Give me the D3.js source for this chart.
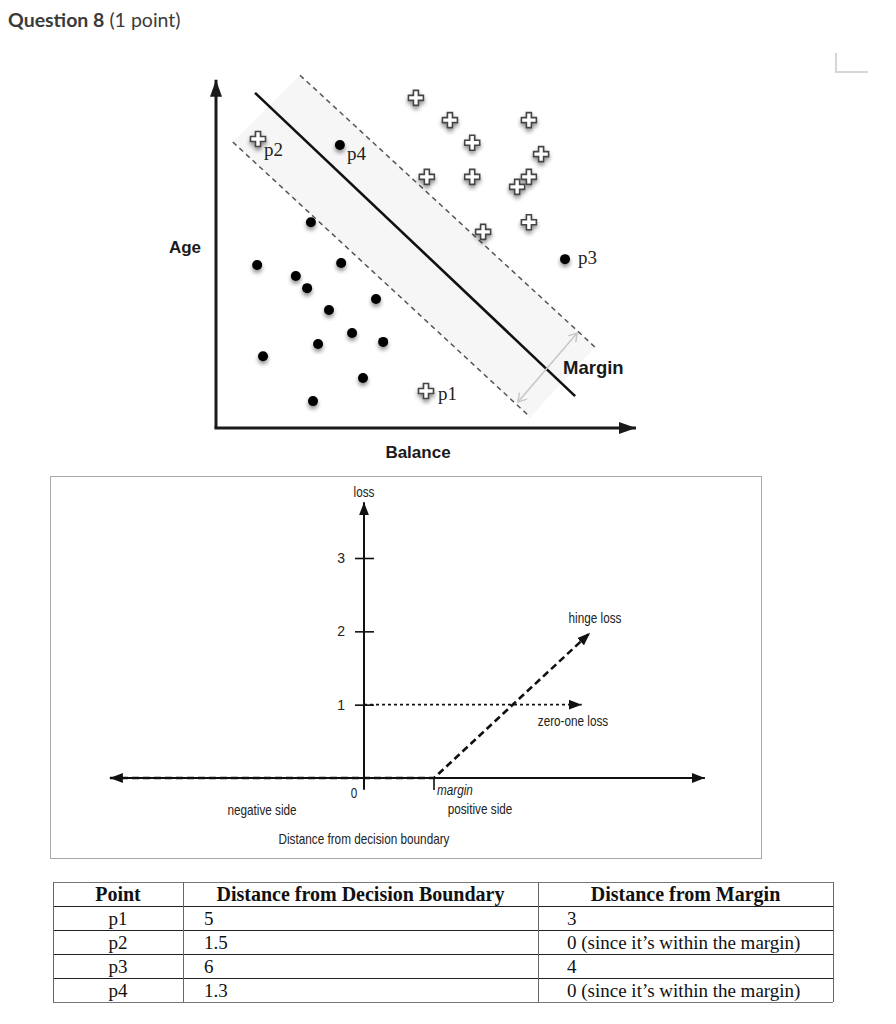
<!DOCTYPE html>
<html>
<head>
<meta charset="utf-8">
<script src="https://cdn.jsdelivr.net/npm/d3@7"></script>
<style>
  body { margin: 0; background: #fff; }
  .cond { font-family: "Liberation Sans", Arial, sans-serif; font-size: 14px; fill: #222; }
  .serif { font-family: "Liberation Serif", "Times New Roman", serif; fill: #111; }
</style>
</head>
<body>
<svg width="896" height="1024"></svg>
<script>
// ---- top plot: balance (x) / age (y), in plot units ----
const negBalance = [0.98, 1.90, 2.17, 2.98, 3.81, 2.69, 3.24, 2.43, 3.98, 1.12, 3.50, 2.31, 2.26];
const negAge     = [3.88, 3.62, 3.33, 3.93, 3.07, 2.81, 2.26, 2.00, 2.05, 1.71, 1.19, 0.64, 4.90];
const posBalance = [4.76, 5.57, 7.45, 6.10, 7.74, 5.02, 6.10, 7.45, 7.17, 7.45, 6.36];
const posAge     = [7.86, 7.33, 7.33, 6.79, 6.52, 5.98, 5.98, 5.98, 5.74, 4.90, 4.67];
const namedPoints = [
  { name: 'p1', cls: 'pos', b: 5.00, a: 0.88 },
  { name: 'p2', cls: 'pos', b: 1.00, a: 6.88 },
  { name: 'p3', cls: 'neg', b: 8.31, a: 4.02 },
  { name: 'p4', cls: 'neg', b: 2.95, a: 6.74 }
];
const boundaryLine = [[0.93, 7.98], [8.55, 0.76]];
const upperMargin  = [[2.00, 8.40], [9.02, 1.93]];
const lowerMargin  = [[0.40, 6.81], [7.48, 0.26]];
const marginArrow  = [[7.19, 0.62], [8.60, 2.26]];

// ---- hinge loss plot ----
const lossTicks = [1, 2, 3];
const hingeX = [-3.63, 1, 3.23];
const hingeY = [0, 0, 1.98];
const zeroOneX = [0, 3.11];
const zeroOneY = [1, 1];

// ---- table ----
const tableHeader = ['Point', 'Distance from Decision Boundary', 'Distance from Margin'];
const tablePoints = ['p1', 'p2', 'p3', 'p4'];
const distBoundary = ['5', '1.5', '6', '1.3'];
const distMargin = ['3', '0 (since it\u2019s within the margin)', '4', '0 (since it\u2019s within the margin)'];

const svg = d3.select('svg');
const defs = svg.append('defs');

function arrowMarker(id, len, wid, color) {
  defs.append('marker')
    .attr('id', id)
    .attr('markerUnits', 'userSpaceOnUse')
    .attr('markerWidth', len).attr('markerHeight', wid)
    .attr('refX', len).attr('refY', wid / 2)
    .attr('orient', 'auto-start-reverse')
    .append('path')
    .attr('d', `M0,0L${len},${wid / 2}L0,${wid}Z`)
    .attr('fill', color);
}
arrowMarker('bigArrow', 17, 12, '#1a1a1a');
arrowMarker('smallArrow', 13, 10, '#111');

defs.append('marker')
  .attr('id', 'openArrow')
  .attr('markerUnits', 'userSpaceOnUse')
  .attr('markerWidth', 12).attr('markerHeight', 12)
  .attr('refX', 9).attr('refY', 6)
  .attr('orient', 'auto-start-reverse')
  .append('path')
  .attr('d', 'M1,1L9,6L1,11')
  .attr('fill', 'none')
  .attr('stroke', '#c8c8c8')
  .attr('stroke-width', 1.5);

const shadow = defs.append('filter').attr('id', 'shadow')
  .attr('x', '-60%').attr('y', '-60%').attr('width', '220%').attr('height', '220%');
shadow.append('feGaussianBlur').attr('in', 'SourceAlpha').attr('stdDeviation', 2);
shadow.append('feOffset').attr('dx', 0).attr('dy', 3).attr('result', 'off');
shadow.append('feComponentTransfer').append('feFuncA').attr('type', 'linear').attr('slope', 0.45);
const merge = shadow.append('feMerge');
merge.append('feMergeNode');
merge.append('feMergeNode').attr('in', 'SourceGraphic');

defs.append('clipPath').attr('id', 'marginClip')
  .append('rect').attr('x', 0).attr('y', 0).attr('width', 623).attr('height', 1024);

// title
const title = svg.append('text')
  .attr('x', 8).attr('y', 27)
  .style('font-family', 'Lato, sans-serif')
  .style('font-size', '19.5px')
  .style('fill', '#3b3b3b');
title.append('tspan').style('font-weight', 'bold').text('Question 8');
title.append('tspan').text(' (1 point)');

// corner mark
svg.append('path')
  .attr('d', 'M836,53V72H868')
  .attr('fill', 'none')
  .attr('stroke', '#d6d6d6')
  .attr('stroke-width', 2);

// ================= top plot =================
const x1 = d3.scaleLinear().domain([0, 10]).range([216, 636]);
const y1 = d3.scaleLinear().domain([0, 8]).range([428, 92]);
const svmG = svg.append('g');
const line1 = d3.line().x(d => x1(d[0])).y(d => y1(d[1]));

// shaded margin band
svmG.append('path')
  .attr('d', line1([upperMargin[0], upperMargin[1], lowerMargin[1], lowerMargin[0]]) + 'Z')
  .attr('fill', '#f6f6f6');

svmG.selectAll('.margin-line')
  .data([upperMargin, lowerMargin])
  .enter().append('path')
  .attr('class', 'margin-line')
  .attr('d', line1)
  .attr('fill', 'none')
  .attr('stroke', '#555')
  .attr('stroke-width', 1.5)
  .attr('stroke-dasharray', '5,4');

svmG.append('path')
  .attr('d', line1(boundaryLine))
  .attr('stroke', '#111')
  .attr('stroke-width', 2.6);

svmG.append('path')
  .attr('d', line1(marginArrow))
  .attr('stroke', '#c8c8c8')
  .attr('stroke-width', 1.6)
  .attr('marker-start', 'url(#openArrow)')
  .attr('marker-end', 'url(#openArrow)');

// axes
svmG.append('line')
  .attr('x1', x1(0)).attr('y1', y1(0))
  .attr('x2', x1(0)).attr('y2', y1(8.29))
  .attr('stroke', '#1a1a1a').attr('stroke-width', 3)
  .attr('marker-end', 'url(#bigArrow)');
svmG.append('line')
  .attr('x1', x1(0) - 1.5).attr('y1', y1(0))
  .attr('x2', x1(10)).attr('y2', y1(0))
  .attr('stroke', '#1a1a1a').attr('stroke-width', 3)
  .attr('marker-end', 'url(#bigArrow)');

const negData = negBalance.map((b, i) => ({ b: b, a: negAge[i] }))
  .concat(namedPoints.filter(d => d.cls === 'neg'));
const posData = posBalance.map((b, i) => ({ b: b, a: posAge[i] }))
  .concat(namedPoints.filter(d => d.cls === 'pos'));

svmG.selectAll('.neg')
  .data(negData)
  .enter().append('circle')
  .attr('class', 'neg')
  .attr('cx', d => x1(d.b))
  .attr('cy', d => y1(d.a))
  .attr('r', 5)
  .attr('fill', '#050505')
  .attr('filter', 'url(#shadow)');

const cross = d3.symbol().type(d3.symbolCross).size(125);
svmG.selectAll('.pos')
  .data(posData)
  .enter().append('path')
  .attr('class', 'pos')
  .attr('d', cross)
  .attr('transform', d => `translate(${x1(d.b)},${y1(d.a)})`)
  .attr('fill', '#fff')
  .attr('stroke', '#444')
  .attr('stroke-width', 1.6)
  .attr('filter', 'url(#shadow)');

const labelOffset = { p1: [12, 9], p2: [6, 17], p3: [13, 5], p4: [7, 15] };
svmG.selectAll('.plabel')
  .data(namedPoints)
  .enter().append('text')
  .attr('class', 'plabel serif')
  .attr('x', d => x1(d.b) + labelOffset[d.name][0])
  .attr('y', d => y1(d.a) + labelOffset[d.name][1])
  .style('font-size', '19px')
  .style('fill', '#222')
  .text(d => d.name);

const boldLabel = 'font-family:"Liberation Sans",Arial,sans-serif;font-weight:bold;font-size:17px;fill:#1a1a1a';
svmG.append('text').attr('x', 185).attr('y', 253).attr('text-anchor', 'middle')
  .attr('style', boldLabel).text('Age');
svmG.append('text').attr('x', 418).attr('y', 458).attr('text-anchor', 'middle')
  .attr('style', boldLabel).text('Balance');
svmG.append('text').attr('x', 563).attr('y', 374)
  .attr('clip-path', 'url(#marginClip)')
  .attr('style', boldLabel).style('font-size', '18.5px').text('Margin');

// ================= hinge loss plot =================
svg.append('rect')
  .attr('x', 50.5).attr('y', 476.5)
  .attr('width', 711).attr('height', 382)
  .attr('fill', 'none')
  .attr('stroke', '#a8a8a8');

const x2 = d3.scaleLinear().domain([0, 1]).range([364, 434]);
const y2 = d3.scaleLinear().domain([0, 3]).range([778, 558]);
const lossG = svg.append('g');

// narrow label text (squeezed horizontally)
function condText(x, y, anchor, str, italic) {
  return lossG.append('text')
    .attr('class', 'cond')
    .attr('transform', `translate(${x},${y}) scale(0.84,1)`)
    .attr('text-anchor', anchor)
    .style('font-style', italic ? 'italic' : null)
    .text(str);
}

// x axis (both directions)
lossG.append('line')
  .attr('x1', x2(-3.63)).attr('y1', y2(0))
  .attr('x2', x2(4.87)).attr('y2', y2(0))
  .attr('stroke', '#111').attr('stroke-width', 2)
  .attr('marker-start', 'url(#smallArrow)')
  .attr('marker-end', 'url(#smallArrow)');

// y axis
lossG.append('line')
  .attr('x1', x2(0)).attr('y1', y2(-0.16))
  .attr('x2', x2(0)).attr('y2', y2(3.76))
  .attr('stroke', '#111').attr('stroke-width', 2)
  .attr('marker-end', 'url(#smallArrow)');

const yAxis = lossG.append('g')
  .attr('transform', `translate(${x2(0)},0)`)
  .call(d3.axisLeft(y2).tickValues(lossTicks).tickSize(9).tickPadding(10).tickFormat(d3.format('d')));
yAxis.select('.domain').remove();
yAxis.attr('font-family', null).attr('font-size', null);
yAxis.selectAll('.tick line').attr('x1', 10).attr('stroke', '#111').attr('stroke-width', 1.6);
yAxis.selectAll('.tick text').attr('class', 'cond').attr('fill', null);

condText(x2(0) - 10, y2(0) + 20, 'middle', '0');

// margin tick
lossG.append('line')
  .attr('x1', x2(1)).attr('y1', y2(0))
  .attr('x2', x2(1)).attr('y2', y2(0) + 12)
  .attr('stroke', '#111').attr('stroke-width', 1.6);

const line2 = d3.line().x(d => x2(d[0])).y(d => y2(d[1]));

lossG.append('path')
  .attr('d', line2(hingeX.map((v, i) => [v, hingeY[i]])))
  .attr('fill', 'none')
  .attr('stroke', '#111')
  .attr('stroke-width', 2.6)
  .attr('stroke-dasharray', '7,4')
  .attr('marker-end', 'url(#smallArrow)');

lossG.append('path')
  .attr('d', line2(zeroOneX.map((v, i) => [v, zeroOneY[i]])))
  .attr('fill', 'none')
  .attr('stroke', '#111')
  .attr('stroke-width', 1.8)
  .attr('stroke-dasharray', '3,3')
  .attr('marker-end', 'url(#smallArrow)');

condText(x2(0), 497, 'middle', 'loss');
condText(595, 623, 'middle', 'hinge loss');
condText(573, 726, 'middle', 'zero-one loss');
condText(x2(1) + 3, 795, 'start', 'margin', true);
condText(262, 815, 'middle', 'negative side');
condText(480, 814, 'middle', 'positive side');
condText(364, 844, 'middle', 'Distance from decision boundary');

// ================= table =================
const colX = [53, 183, 538, 833];
const rowY = d3.scaleBand().domain(['header'].concat(tablePoints)).range([882, 1002]);
const tbl = svg.append('g');

tbl.selectAll('.hline')
  .data(rowY.domain().concat(['end']))
  .enter().append('line')
  .attr('x1', colX[0]).attr('x2', colX[3])
  .attr('y1', (d, i) => 882.5 + i * rowY.bandwidth())
  .attr('y2', (d, i) => 882.5 + i * rowY.bandwidth())
  .attr('stroke', (d, i) => (i === 0 || i === 5) ? '#777' : '#222')
  .attr('stroke-width', 1.2);

tbl.selectAll('.vline')
  .data(colX)
  .enter().append('line')
  .attr('x1', d => d + 0.5).attr('x2', d => d + 0.5)
  .attr('y1', 882).attr('y2', 1002)
  .attr('stroke', '#666')
  .attr('stroke-width', 1);

tbl.selectAll('.head')
  .data(tableHeader)
  .enter().append('text')
  .attr('class', 'serif')
  .attr('x', (d, i) => (colX[i] + colX[i + 1]) / 2)
  .attr('y', rowY('header') + 19)
  .attr('text-anchor', 'middle')
  .style('font-weight', 'bold')
  .style('font-size', '20px')
  .text(d => d);

tbl.selectAll('.pt')
  .data(tablePoints)
  .enter().append('text')
  .attr('class', 'serif')
  .attr('x', (colX[0] + colX[1]) / 2)
  .attr('y', d => rowY(d) + 19)
  .attr('text-anchor', 'middle')
  .style('font-size', '19px')
  .text(d => d);

tbl.selectAll('.db')
  .data(distBoundary)
  .enter().append('text')
  .attr('class', 'serif')
  .attr('x', colX[1] + 21)
  .attr('y', (d, i) => rowY(tablePoints[i]) + 19)
  .style('font-size', '19px')
  .text(d => d);

tbl.selectAll('.dm')
  .data(distMargin)
  .enter().append('text')
  .attr('class', 'serif')
  .attr('x', colX[2] + 29)
  .attr('y', (d, i) => rowY(tablePoints[i]) + 19)
  .style('font-size', '19px')
  .text(d => d);
</script>
</body>
</html>
